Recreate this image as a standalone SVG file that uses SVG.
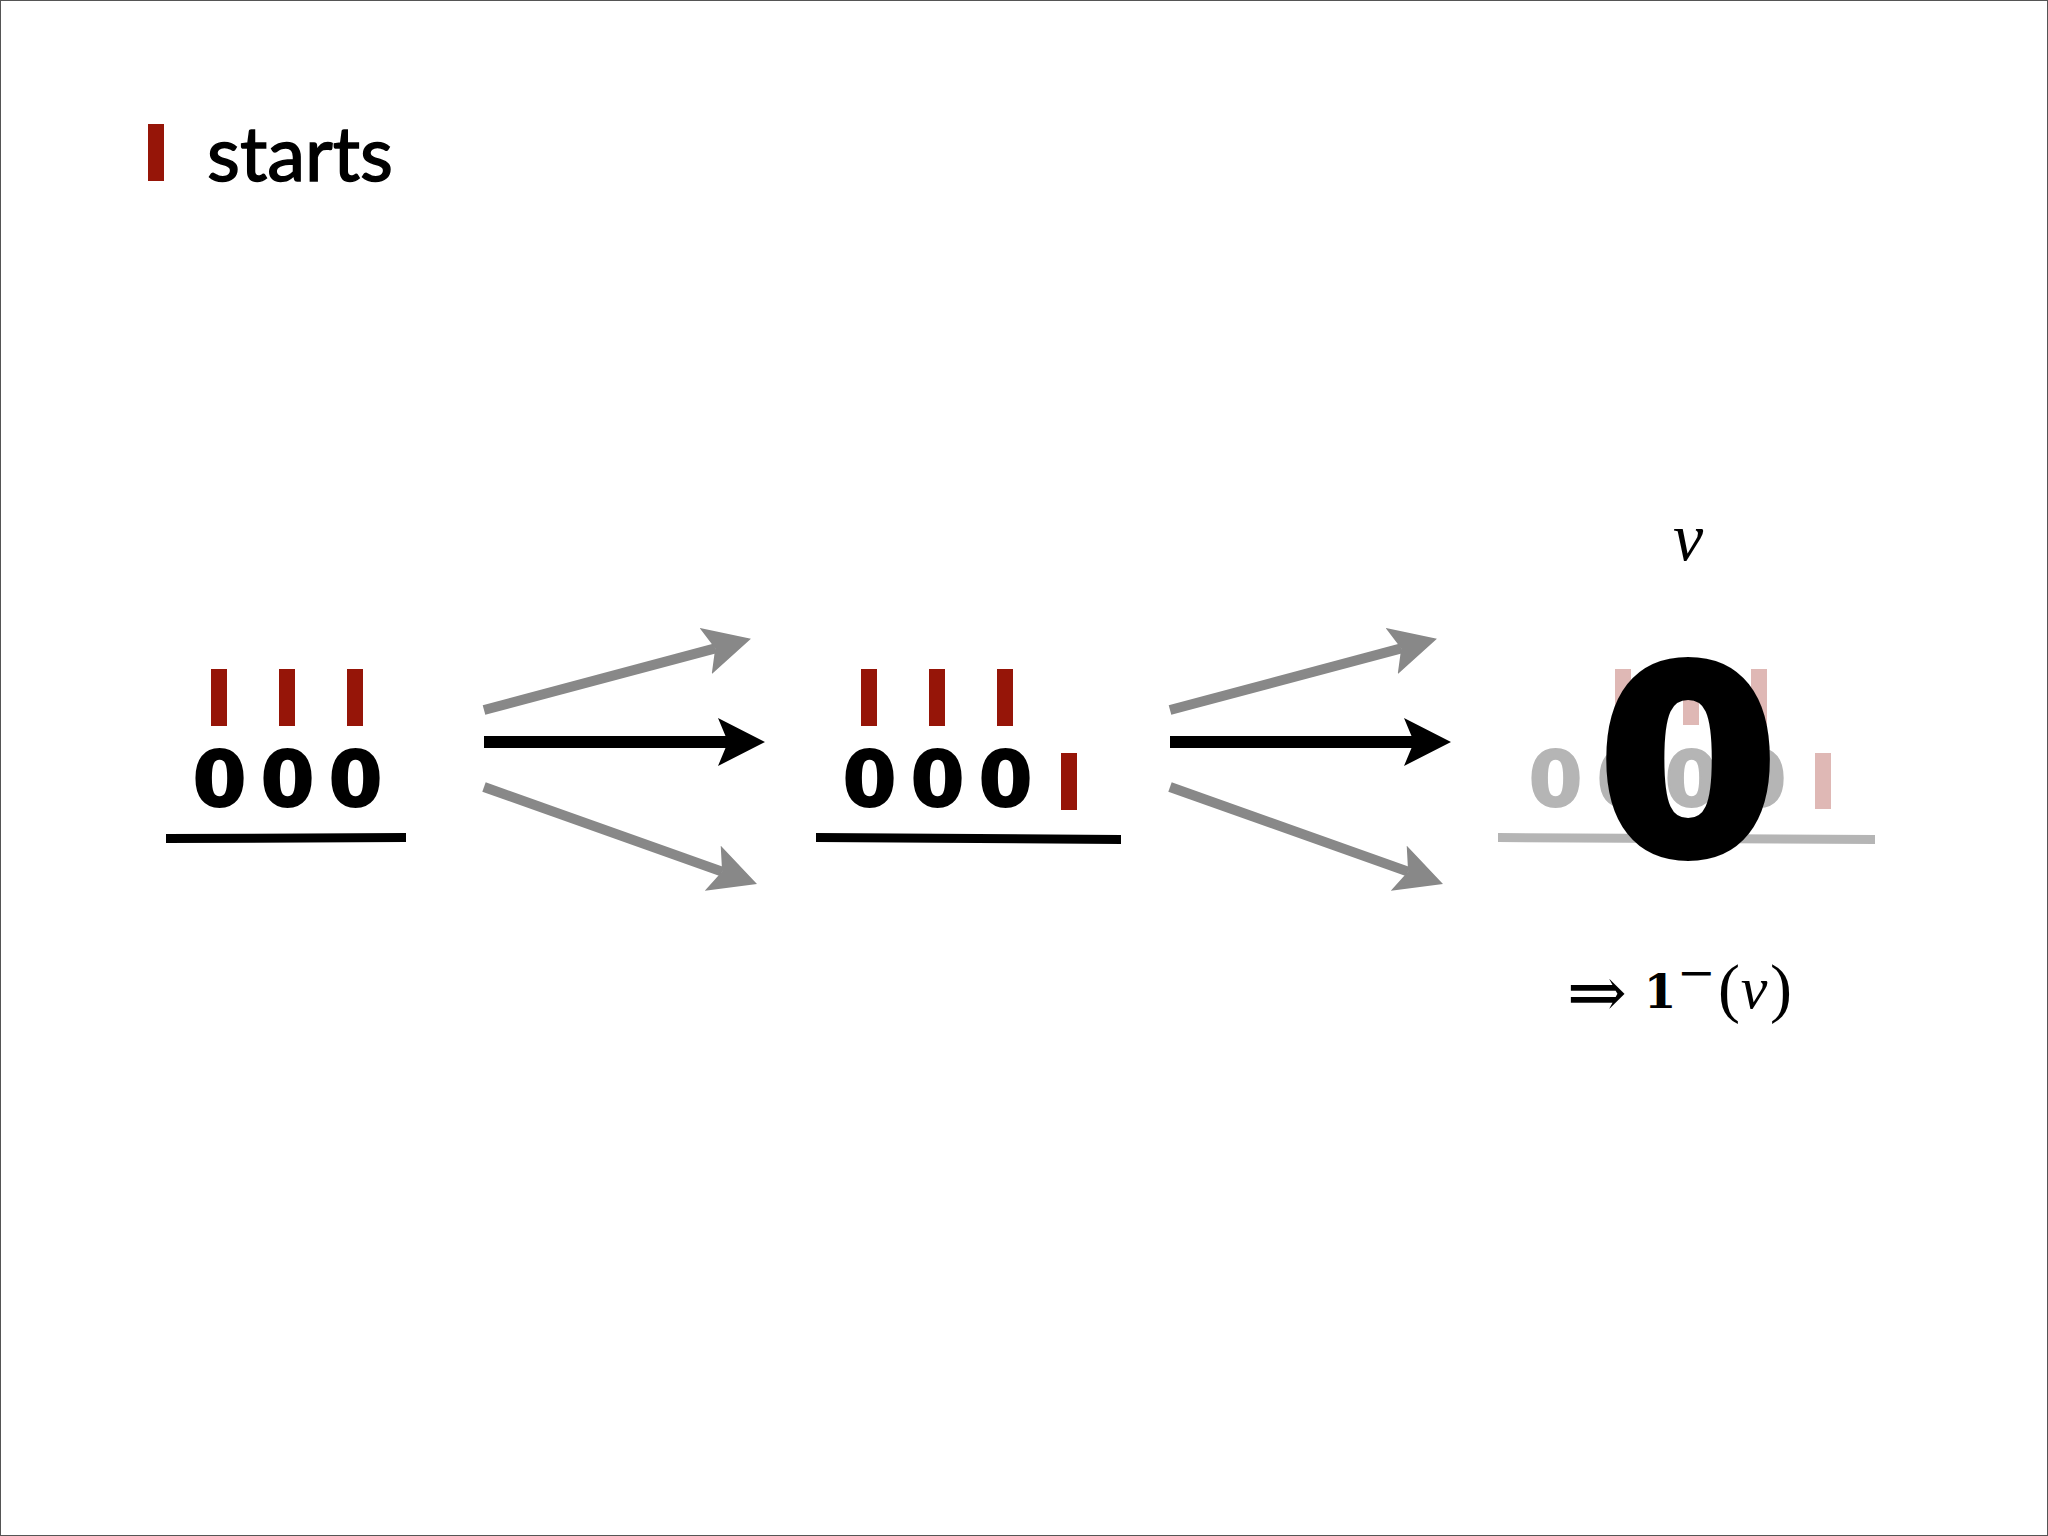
<svg xmlns="http://www.w3.org/2000/svg" width="2048" height="1536" viewBox="0 0 2048 1536">
<style>
.red{fill:#961508}
.pink{fill:#dfb8b5}
.z{font-family:"DejaVu Sans",sans-serif;font-weight:bold;font-size:77px;text-anchor:middle;stroke-width:2;stroke-linejoin:round}
.zb{fill:#000;stroke:#000}
.zg{fill:#b5b5b5;stroke:#b5b5b5}
.g{stroke:#888;stroke-width:10;fill:none}
.k{stroke:#000;stroke-width:12;fill:none}
.m{font-family:"Liberation Serif","DejaVu Serif",serif}
</style>
<defs>
<marker id="ahk" markerUnits="userSpaceOnUse" viewBox="0 0 47 48" refX="10" refY="24" markerWidth="47" markerHeight="48" orient="auto"><path d="M0,0 L47,24 L0,48 L10,24 Z" fill="#000"/></marker>
<marker id="ahg" markerUnits="userSpaceOnUse" viewBox="0 0 47 48" refX="10" refY="24" markerWidth="47" markerHeight="48" orient="auto"><path d="M0,0 L47,24 L0,48 L10,24 Z" fill="#888"/></marker>
</defs>
<rect x="0.5" y="0.5" width="2047" height="1535" fill="#fff" stroke="#555" stroke-width="1"/>
<g id="title">
<rect class="red" x="148" y="124" width="16" height="57"/>
<text x="207" y="181" font-family="Lato,'Open Sans',sans-serif" font-size="76" textLength="186" lengthAdjust="spacingAndGlyphs" fill="#000" stroke="#000" stroke-width="1.5">starts</text>
</g>
<g id="state1">
<rect class="red" x="211" y="669" width="16" height="57"/>
<rect class="red" x="279" y="669" width="16" height="57"/>
<rect class="red" x="347" y="669" width="16" height="57"/>
<text class="z zb" x="219.5" y="806">0</text>
<text class="z zb" x="287.5" y="806">0</text>
<text class="z zb" x="355.5" y="806">0</text>
<polygon points="166,834 406,833 406,842 166,843" fill="#000"/>
</g>
<g id="state2">
<rect class="red" x="861" y="669" width="16" height="57"/>
<rect class="red" x="929" y="669" width="16" height="57"/>
<rect class="red" x="997" y="669" width="16" height="57"/>
<rect class="red" x="1061" y="753" width="16" height="57"/>
<text class="z zb" x="869.5" y="806">0</text>
<text class="z zb" x="937.5" y="806">0</text>
<text class="z zb" x="1005.5" y="806">0</text>
<polygon points="816,833 1121,835 1121,844 816,842" fill="#000"/>
</g>
<g id="state3">
<text class="m" x="1688" y="560" font-size="68" font-style="italic" text-anchor="middle" fill="#000">v</text>
<rect class="pink" x="1615" y="669" width="16" height="56"/>
<rect class="pink" x="1683" y="669" width="16" height="56"/>
<rect class="pink" x="1751" y="669" width="16" height="56"/>
<rect class="pink" x="1815" y="753" width="16" height="56"/>
<text class="z zg" x="1555.5" y="806">0</text>
<text class="z zg" x="1623.5" y="806">0</text>
<text class="z zg" x="1691.5" y="806">0</text>
<text class="z zg" x="1759.5" y="806">0</text>
<polygon points="1498,833 1875,835 1875,844 1498,842" fill="#b5b5b5"/>
<text x="1688" y="852" font-family="'DejaVu Sans',sans-serif" font-weight="bold" font-size="256" text-anchor="middle" fill="#000" stroke="#000" stroke-width="10" stroke-linejoin="round">0</text>
</g>
<g id="result">
<text x="1597" y="1017" font-family="'DejaVu Serif',serif" font-size="72" text-anchor="middle" fill="#000">⇒</text>
<text x="1660" y="1008" font-family="'DejaVu Serif',serif" font-size="47" font-weight="bold" text-anchor="middle" fill="#000">1</text>
<text x="1677" y="988" font-family="'DejaVu Serif',serif" font-size="46" text-anchor="start" fill="#000">−</text>
<text class="m" x="1729" y="1010" font-size="66" text-anchor="middle" fill="#000">(</text>
<text class="m" x="1754" y="1008" font-size="60" font-style="italic" text-anchor="middle" fill="#000">v</text>
<text class="m" x="1781" y="1010" font-size="66" text-anchor="middle" fill="#000">)</text>
</g>
<g id="connectors">
<line class="g" x1="484" y1="710" x2="715.2" y2="648.4" marker-end="url(#ahg)"/>
<line class="k" x1="484" y1="742" x2="728" y2="742" marker-end="url(#ahk)"/>
<line class="g" x1="484" y1="787" x2="722.1" y2="871.6" marker-end="url(#ahg)"/>
<line class="g" x1="1170" y1="710" x2="1401.2" y2="648.4" marker-end="url(#ahg)"/>
<line class="k" x1="1170" y1="742" x2="1414" y2="742" marker-end="url(#ahk)"/>
<line class="g" x1="1170" y1="787" x2="1408.1" y2="871.6" marker-end="url(#ahg)"/>
</g>
</svg>
